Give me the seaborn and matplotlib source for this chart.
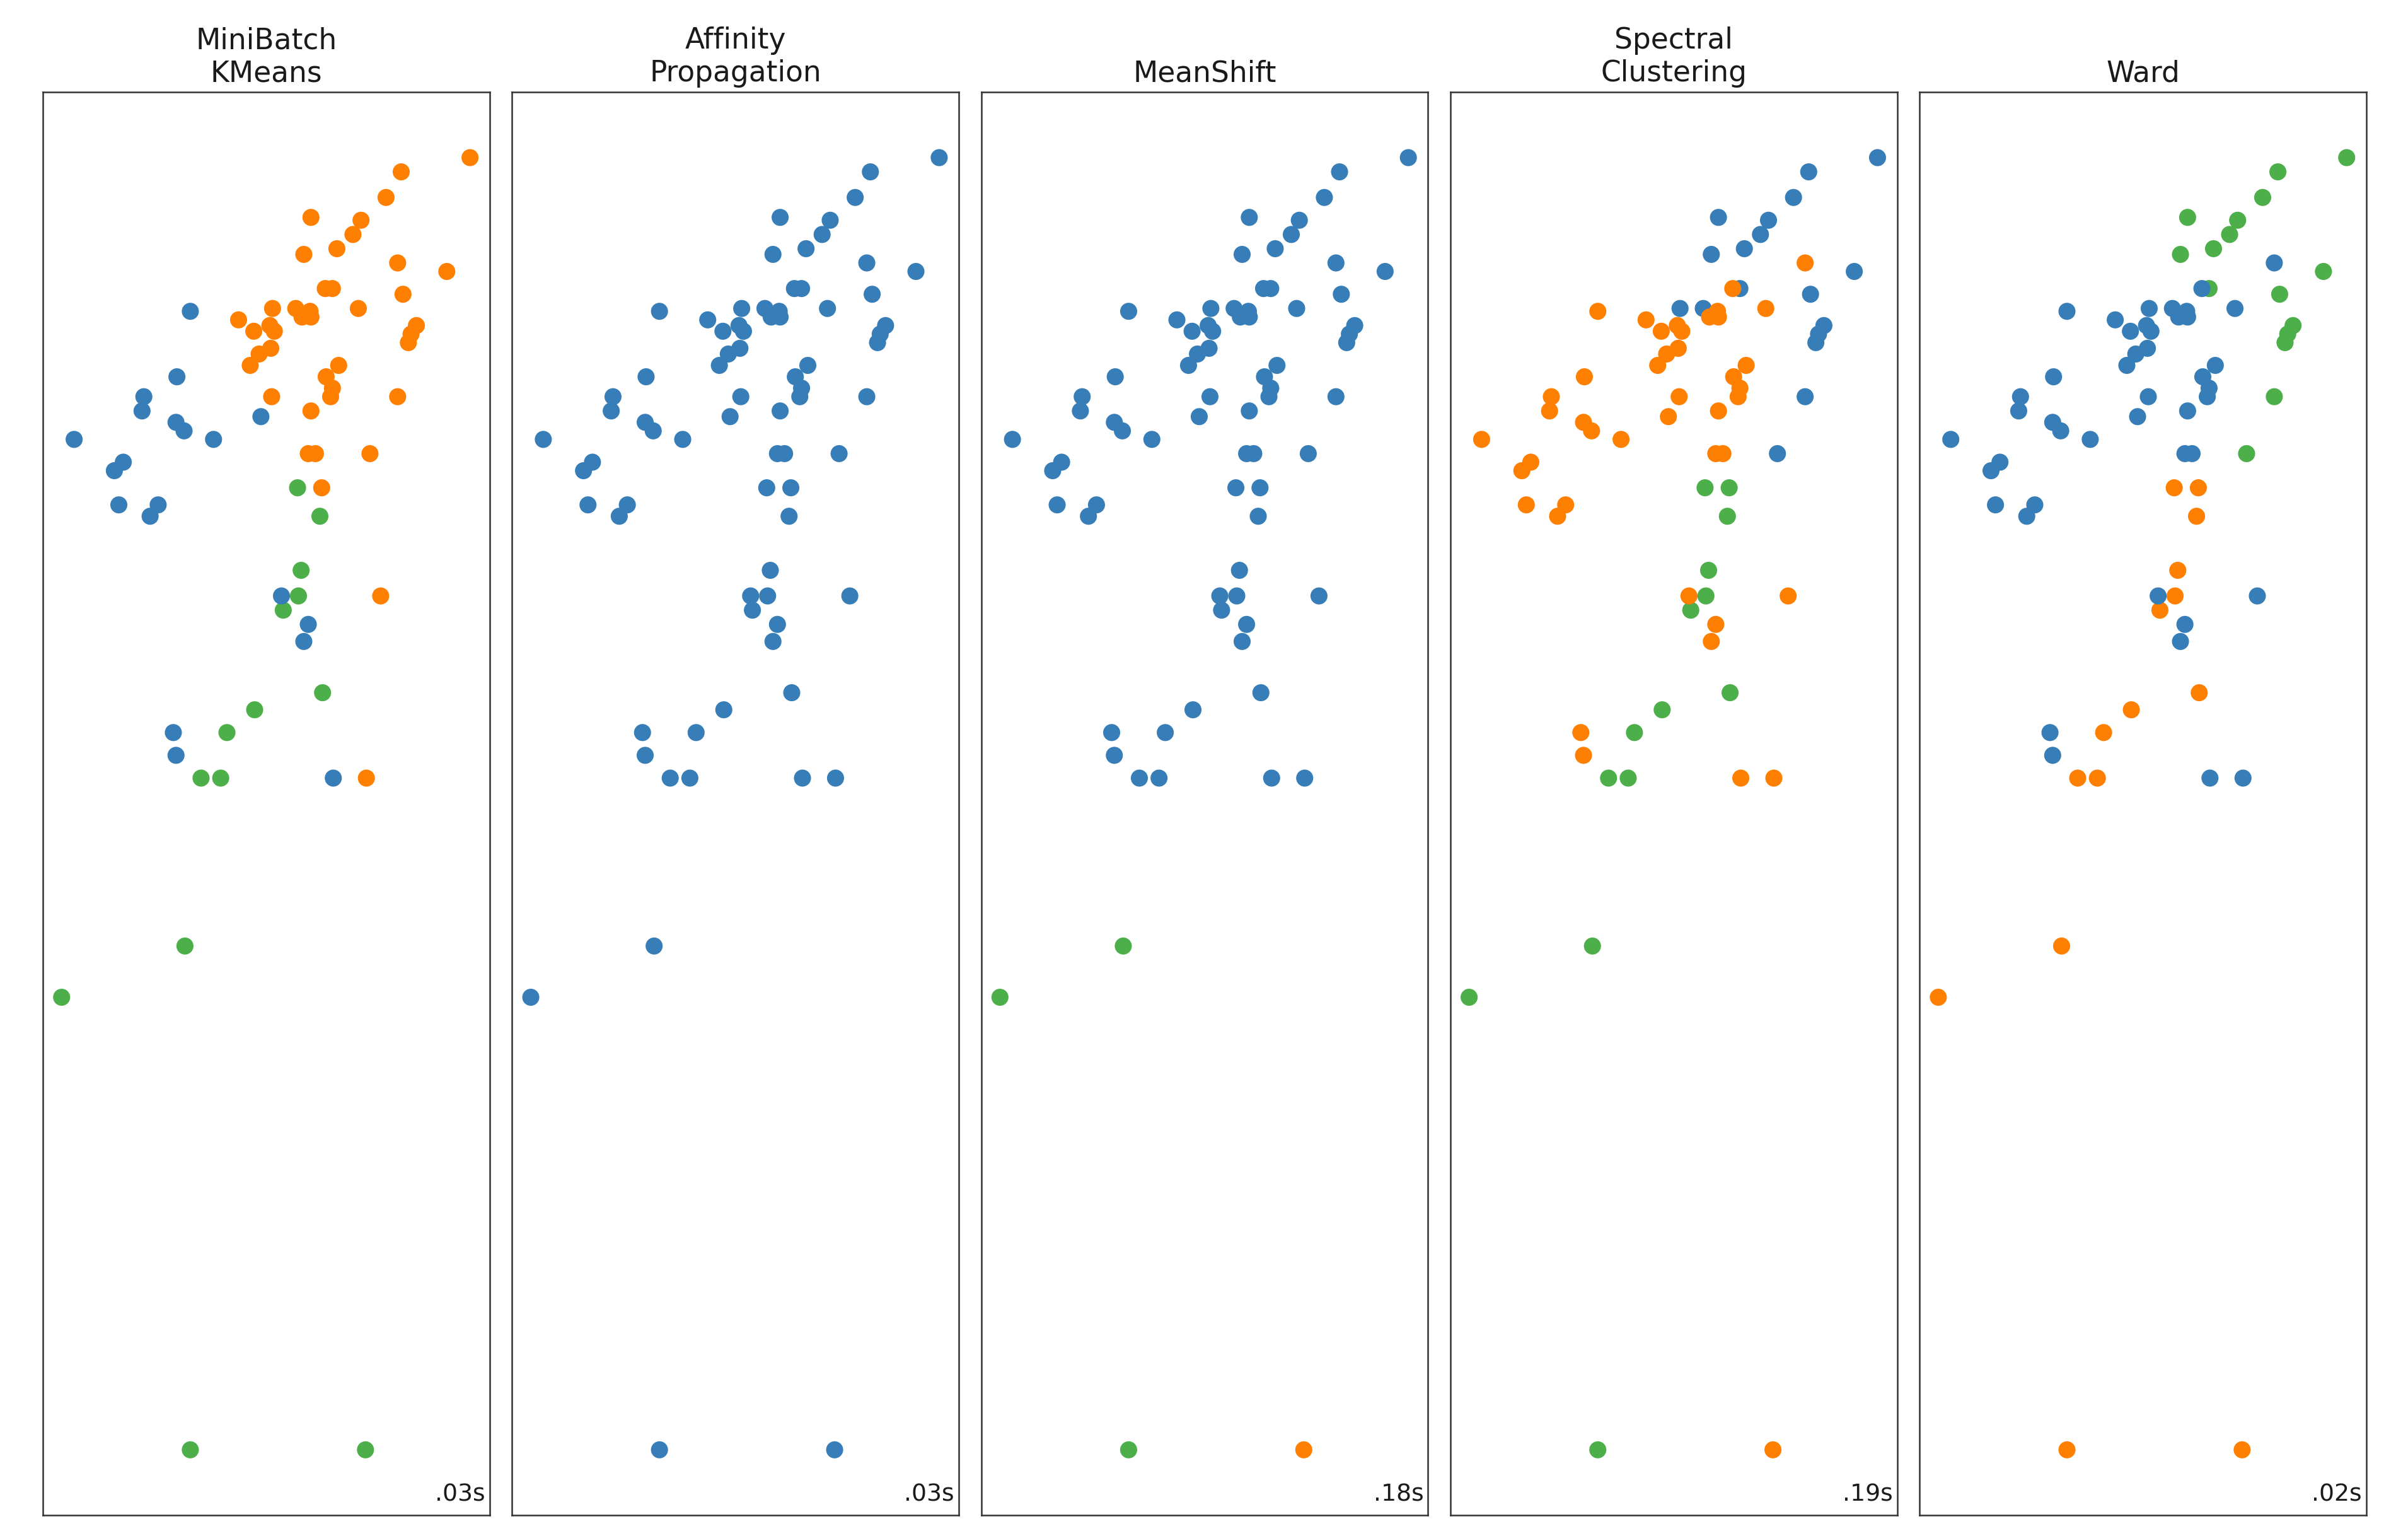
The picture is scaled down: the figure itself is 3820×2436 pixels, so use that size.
import numpy as np
import pandas as pd
import matplotlib
matplotlib.use("Agg")
import matplotlib.pyplot as plt
import seaborn as sns

# ---- data (shared 2-D sample points) ----
x_vals = [2.28, 1.51, 1.34, 0.50, 1.06, 0.97, 0.79, 0.42, 1.47, 2.02,
          0.74, 0.66, 1.53, -0.85, 0.07, 0.33, 0.40, 0.49, 0.50, 1.03,
          -0.31, -0.14, 0.04, 0.09, 1.68, 1.62, 1.59, 0.05, -0.08, -0.18,
          0.81, 0.67, 0.74, 0.72, -1.00, -1.37, -1.39, 0.06, 1.47, 0.50,
          -0.06, -1.01, -0.92, -2.15, -0.59, -1.60, -1.70, 0.47, 0.55, 1.16,
          0.35, 0.62, -1.65, -1.21, -1.30, 0.60, 0.39, 0.19, 0.17, 0.36,
          1.28, 0.47, 0.42, 0.63, -0.13, -1.04, -0.44, -1.01, -0.73, -0.51,
          0.75, 1.12, -0.91, -2.29, -0.85, 1.11]
y_vals = [2.27, 2.22, 2.13, 2.06, 2.05, 2.00, 1.95, 1.93, 1.90, 1.87,
          1.81, 1.81, 1.79, 1.73, 1.74, 1.74, 1.71, 1.73, 1.71, 1.74,
          1.70, 1.66, 1.68, 1.66, 1.68, 1.65, 1.62, 1.60, 1.58, 1.54,
          1.54, 1.50, 1.46, 1.43, 1.50, 1.43, 1.38, 1.43, 1.43, 1.38,
          1.36, 1.34, 1.31, 1.28, 1.28, 1.20, 1.17, 1.23, 1.23, 1.23,
          1.11, 1.11, 1.05, 1.05, 1.01, 1.01, 0.82, 0.68, 0.73, 0.73,
          0.73, 0.63, 0.57, 0.39, 0.33, 0.25, 0.25, 0.17, 0.09, 0.09,
          0.09, 0.09, -0.50, -0.68, -2.27, -2.27]

# cluster labels per algorithm (0 = blue, 1 = orange, 2 = green)
labels_minibatch = [1, 1, 1, 1, 1, 1, 1, 1, 1, 1,
                    1, 1, 1, 0, 1, 1, 1, 1, 1, 1,
                    1, 1, 1, 1, 1, 1, 1, 1, 1, 1,
                    1, 1, 1, 1, 0, 0, 0, 1, 1, 1,
                    0, 0, 0, 0, 0, 0, 0, 1, 1, 1,
                    2, 1, 0, 0, 0, 2, 2, 2, 0, 2,
                    1, 0, 0, 2, 2, 0, 2, 0, 2, 2,
                    0, 1, 2, 2, 2, 2]
labels_affinity = [0] * 76
labels_meanshift = [0] * 72 + [2, 2, 2, 1]
labels_spectral = [0, 0, 0, 0, 0, 0, 0, 0, 1, 0,
                   0, 1, 0, 1, 0, 0, 1, 1, 1, 1,
                   1, 1, 1, 1, 0, 0, 0, 1, 1, 1,
                   1, 1, 1, 1, 1, 1, 1, 1, 0, 1,
                   1, 1, 1, 1, 1, 1, 1, 1, 1, 0,
                   2, 2, 1, 1, 1, 2, 2, 2, 1, 2,
                   1, 1, 1, 2, 2, 1, 2, 1, 2, 2,
                   1, 1, 2, 2, 2, 1]
labels_ward = [2, 2, 2, 2, 2, 2, 2, 2, 0, 2,
               2, 0, 2, 0, 0, 0, 0, 0, 0, 0,
               0, 0, 0, 0, 2, 2, 2, 0, 0, 0,
               0, 0, 0, 0, 0, 0, 0, 0, 2, 0,
               0, 0, 0, 0, 0, 0, 0, 0, 0, 2,
               1, 1, 0, 0, 0, 1, 1, 1, 0, 1,
               0, 0, 0, 1, 1, 0, 1, 0, 1, 1,
               0, 0, 1, 1, 1, 1]

titles = ["MiniBatch\nKMeans", "Affinity\nPropagation", "MeanShift",
          "Spectral\nClustering", "Ward"]
times = [".03s", ".03s", ".18s", ".19s", ".02s"]
all_labels = [labels_minibatch, labels_affinity, labels_meanshift,
              labels_spectral, labels_ward]

colors = ["#377eb8", "#ff7f00", "#4daf4a"]

sns.set_theme(style="white")
plt.rcParams['font.family'] = ['DejaVu Sans']

fig, axes = plt.subplots(1, 5, figsize=(19.1, 12.18), dpi=200)
fig.subplots_adjust(left=0.0178, right=0.9827, bottom=0.0135, top=0.940,
                    wspace=0.05)

for ax, title, t, labs in zip(axes, titles, times, all_labels):
    df = pd.DataFrame({"x": x_vals, "y": y_vals, "c": labs})
    pal = {k: colors[k] for k in sorted(set(labs))}
    sns.scatterplot(data=df, x="x", y="y", hue="c", palette=pal, s=95,
                    linewidth=0, legend=False, ax=ax, alpha=1)
    ax.set_xlim(-2.5, 2.5)
    ax.set_ylim(-2.5, 2.5)
    ax.set_xticks([])
    ax.set_yticks([])
    ax.set_xlabel("")
    ax.set_ylabel("")
    ax.set_title(title, fontsize=16.4, color="#1a1a1a")
    for sp in ax.spines.values():
        sp.set_visible(True)
        sp.set_color("#333333")
        sp.set_linewidth(0.9)
    ax.text(0.99, 0.01, t, transform=ax.transAxes, fontsize=13.6,
            ha="right", color="#1a1a1a")

fig.savefig("out.png", dpi=200, facecolor="white")
